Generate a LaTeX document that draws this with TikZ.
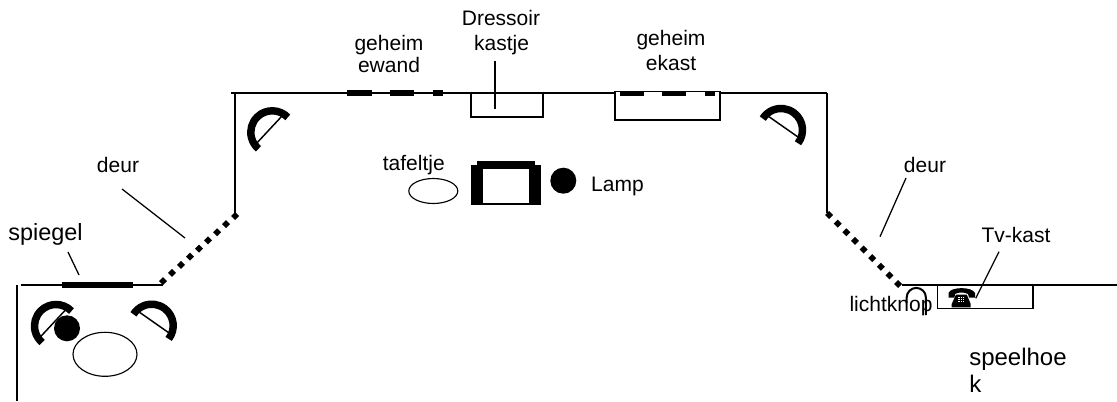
\documentclass[tikz,border=0pt]{standalone}
\usepackage{fontspec}
\setmainfont{Liberation Sans}
\newcommand{\fsz}[1]{\fontsize{#1}{#1}\selectfont}
\newcommand{\chairat}[3]{%
  \begin{scope}[shift={(#1,#2)},rotate=#3]
    \draw[chairarc] (-93:21.5) arc[start angle=-93,end angle=93,radius=21.5];
    \draw[wall] (4,-18) -- (4,18);
  \end{scope}}
\newcommand{\doordots}[4]{%
  \foreach \i in {0,...,8}{
    \fill ({#1+(#3-#1)*\i/8},{#2+(#4-#2)*\i/8}) +(-4,0) -- +(0,4) -- +(4,0) -- +(0,-4) -- cycle;}}
\tikzset{
  wall/.style={line width=1.1pt},
  thin wall/.style={line width=0.85pt},
  leader/.style={line width=0.95pt},
  thickbar/.style={line width=4.4pt},
  chairarc/.style={line width=5.6pt},
  lbl/.style={anchor=base,inner sep=0pt,font=\fsz{15.75}},
  outline/.style={draw,line width=0.85pt,fill=white},
}
\begin{document}
\begin{tikzpicture}[x=0.75pt,y=0.75pt]
\useasboundingbox (0,0) rectangle (1117,401);
% walls (y = 401 - pixel y)
\draw[wall] (17,116) -- (17,0);
\draw[wall] (21,116) -- (163,116);
\draw[wall] (235,308) -- (235,187);
\draw[wall] (231,308) -- (827,308);
\draw[wall] (827,308) -- (827,188);
\draw[wall] (902,116) -- (1117,116);
% doors
\doordots{163}{120}{235}{185}
\doordots{829}{186}{898}{117}
% cupboards
\draw[outline] (471,308) rectangle (543,284);
\draw[outline] (615,309.5) rectangle (720,281);
\draw[outline] (937.3,116) rectangle (1033,92.3);
% thick bars
\draw[thickbar] (62,116) -- (133,116);
\foreach \a/\b in {347/372,390/414,433/443}{\draw[thickbar] (\a,308) -- (\b,308);}
\foreach \a/\b in {620/644,662/686,705/715}{\draw[thickbar] (\a,307.5) -- (\b,307.5);}
% chairs
\chairat{56}{75}{137}
\chairat{151.7}{75.3}{55}
\chairat{272.3}{268.7}{137}
\chairat{781}{271}{55}
% bottom-left table and seat
\fill (67,72.7) circle[radius=13];
\draw[thin wall] (105,46.7) ellipse[x radius=32,y radius=22];
% sofa
\fill (477.3,240) rectangle (535,232);
\fill (471,236) rectangle (483.3,197);
\fill (529.3,236) rectangle (541,197);
\draw[thin wall] (471,197) -- (541,197);
% lamp and side table
\fill (563.3,220.3) circle[radius=13];
\draw[thin wall] (433.3,210) ellipse[x radius=24.5,y radius=12.5];
% light switch
\draw[line width=1.5pt] (906.7,98) -- (906.7,103.5) arc[start angle=180,end angle=0,radius=9.6] -- (925.9,86);
% telephone
\fill (948.5,103.5) -- (948.5,108) .. controls (951,114.5) and (972,114.5) .. (975,108) -- (975,103.5) -- (969,103.5) -- (968,107) .. controls (965,109) and (958,109) .. (955,107) -- (954.5,103.5) -- cycle;
\fill (951.7,93.7) -- (970.7,93.7) -- (970.7,97) -- (966.7,106.5) -- (956,106.5) -- (951.7,97) -- cycle;
\foreach \u in {0,1,2}{\foreach \v in {0,1,2}{\fill[white] ({958.4+2.2*\u},{99.2+1.9*\v}) rectangle +(1.2,1.1);}}
% leaders
\coordinate (spA) at (68,149); \coordinate (spB) at (79,126);
\coordinate (dlA) at (122,212); \coordinate (dlB) at (185,163);
\coordinate (drA) at (906,223); \coordinate (drB) at (880,164.3);
\coordinate (tvA) at (999,149.3); \coordinate (tvB) at (975.7,102.7);
\coordinate (drsA) at (495,340); \coordinate (drsB) at (495,292);
\draw[leader] (spA) -- (spB);
\draw[leader] (dlA) -- (dlB);
\draw[leader] (drA) -- (drB);
\draw[leader] (tvA) -- (tvB);
\draw[leader] (drsA) -- (drsB);
% labels
\node[lbl,font=\fsz{17.6}] (spiegel) at (45.5,161) {spiegel};
\node[lbl] (deurL) at (118,229) {deur};
\node[lbl] (deurR) at (925,229) {deur};
\node[lbl] (gw1) at (389,351) {geheim};
\node[lbl] (gw2) at (389,328.3) {ewand};
\node[lbl] (dr1) at (501,375) {Dressoir};
\node[lbl] (dr2) at (501.5,350) {kastje};
\node[lbl] (gk1) at (671,355) {geheim};
\node[lbl] (gk2) at (671,330) {ekast};
\node[lbl] (taf) at (413.8,230.3) {tafeltje};
\node[lbl] (lamp) at (617.5,209.3) {Lamp};
\node[lbl] (tv) at (1016,159) {Tv-kast};
\node[lbl] (licht) at (891,89.3) {lichtknop};
\node[lbl,font=\fsz{18},anchor=base west] (sp1) at (969,36) {speelhoe};
\node[lbl,font=\fsz{18},anchor=base west] (sp2) at (969,8.3) {k};
\end{tikzpicture}
\end{document}
